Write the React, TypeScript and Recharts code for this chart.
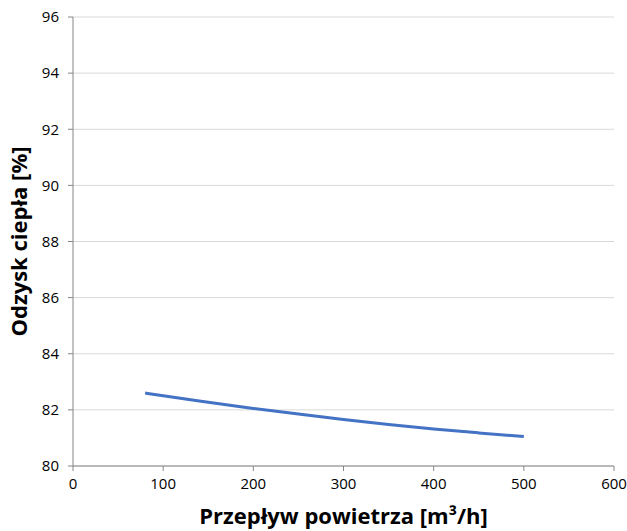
import { LineChart, Line, XAxis, YAxis, CartesianGrid } from 'recharts'

const flow = [80, 100, 150, 200, 250, 300, 350, 400, 450, 500]
const recovery = [82.6, 82.5, 82.27, 82.05, 81.85, 81.66, 81.48, 81.32, 81.18, 81.05]
const xTicks = [0, 100, 200, 300, 400, 500, 600]
const yTicks = [80, 82, 84, 86, 88, 90, 92, 94, 96]

const data = flow.map((f, i) => ({ flow: f, recovery: recovery[i] }))

const font = '"Open Sans", "Noto Sans", sans-serif'
const axisColor = '#868686'
const gridColor = '#d9d9d9'

function YTitle({ viewBox }: any) {
  const cy = viewBox.y + viewBox.height / 2
  return (
    <text
      x={18}
      y={cy}
      transform={`rotate(-90, 18, ${cy})`}
      textAnchor="middle"
      dominantBaseline="central"
      fontFamily={font}
      fontSize={22}
      fontWeight="bold"
      fill="#000"
    >
      Odzysk ciepła [%]
    </text>
  )
}

function XTitle({ viewBox }: any) {
  const cx = viewBox.x + viewBox.width / 2
  return (
    <text
      x={cx}
      y={515}
      textAnchor="middle"
      dominantBaseline="central"
      fontFamily={font}
      fontSize={22}
      fontWeight="bold"
      fill="#000"
    >
      Przepływ powietrza [m³/h]
    </text>
  )
}

export default function App() {
  return (
    <div style={{ position: 'absolute', left: 0, top: 0, background: '#fff' }}>
      <LineChart
        width={627}
        height={531}
        data={data}
        margin={{ top: 17, right: 13, left: 0, bottom: 0 }}
      >
        <CartesianGrid horizontal vertical={false} stroke={gridColor} />
        <XAxis
          dataKey="flow"
          type="number"
          domain={[0, 600]}
          ticks={xTicks}
          height={65}
          tickSize={5}
          tickMargin={7}
          stroke={axisColor}
          tick={{ fill: '#000', fontSize: 15, fontFamily: font }}
          label={<XTitle />}
        />
        <YAxis
          type="number"
          domain={[80, 96]}
          ticks={yTicks}
          width={73}
          tickSize={5}
          tickMargin={9}
          stroke={axisColor}
          tick={{ fill: '#000', fontSize: 15, fontFamily: font }}
          label={<YTitle />}
        />
        <Line
          dataKey="recovery"
          type="monotone"
          stroke="#4472C4"
          strokeWidth={3}
          dot={false}
          isAnimationActive={false}
        />
      </LineChart>
    </div>
  )
}
